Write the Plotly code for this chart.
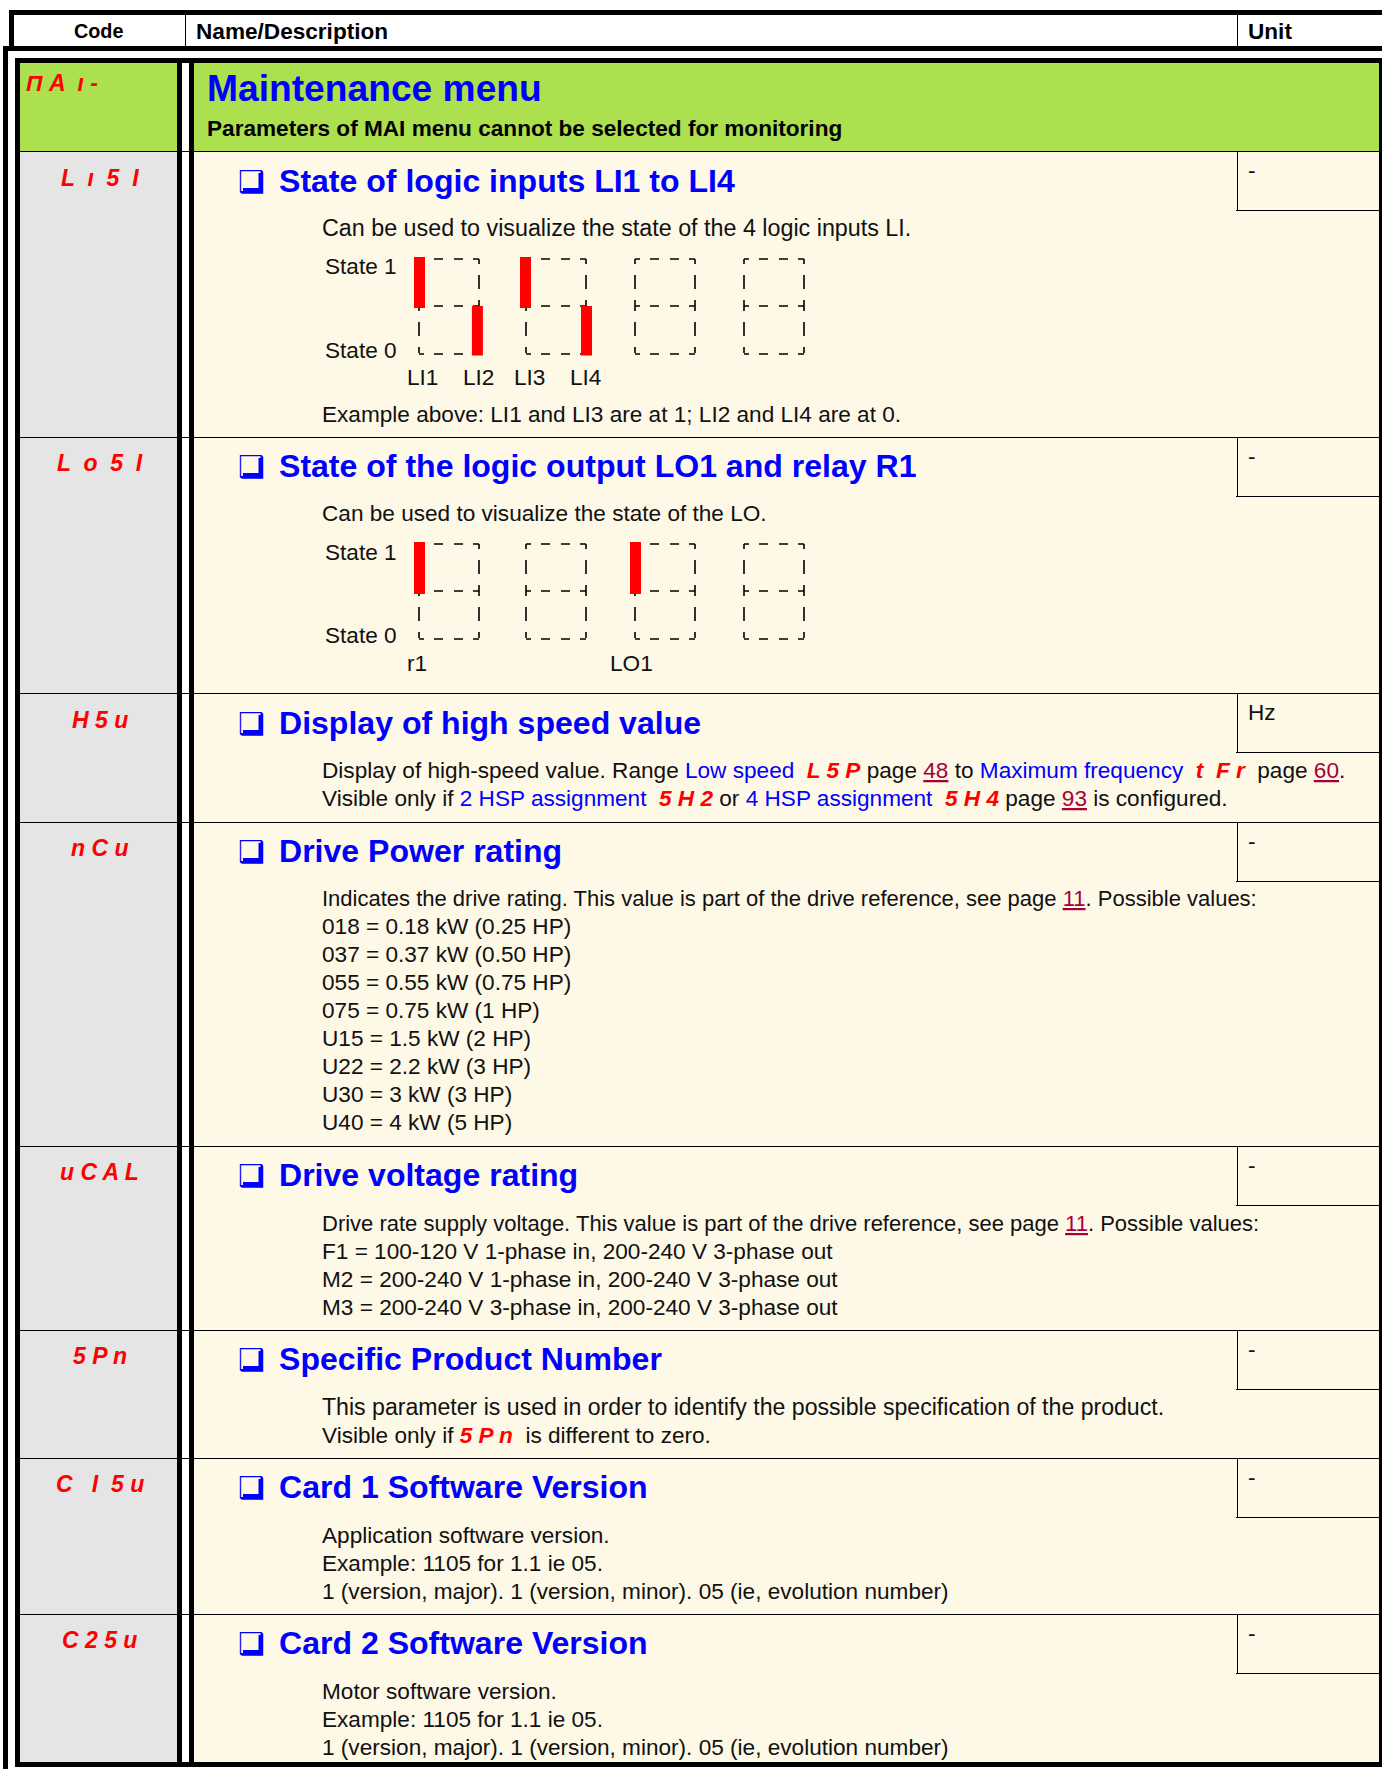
import plotly.graph_objects as go

# ---------- content ----------
header_labels = ["Code", "Name/Description", "Unit"]
menu_code = "Π A  ı -"
menu_title = "Maintenance menu"
menu_note = "Parameters of MAI menu cannot be selected for monitoring"
codes = ["L  ı  5  I", "L  o  5  I", "H 5 u", "n C u", "u C A L", "5 P n", "C   I  5 u", "C 2 5 u"]
headings = [
    "State of logic inputs LI1 to LI4",
    "State of the logic output LO1 and relay R1",
    "Display of high speed value",
    "Drive Power rating",
    "Drive voltage rating",
    "Specific Product Number",
    "Card 1 Software Version",
    "Card 2 Software Version",
]
units = ["-", "-", "Hz", "-", "-", "-", "-", "-"]

def seg(s):
    return f'<span style="color:#ff0000"><b><i>{s}</i></b></span>'
def blue(s):
    return f'<span style="color:#0000ff">{s}</span>'
def link(s):
    return f'<span style="color:#a5003c"><u>{s}</u></span>'

body_row1 = ["Can be used to visualize the state of the 4 logic inputs LI.",
             "Example above: LI1 and LI3 are at 1; LI2 and LI4 are at 0."]
body_row2 = ["Can be used to visualize the state of the LO."]
body_row3 = [
    "Display of high-speed value. Range " + blue("Low speed") + "  " + seg("L 5 P") + " page " + link("48")
    + " to " + blue("Maximum frequency") + "  " + seg("t  F r") + "  page " + link("60") + ".",
    "Visible only if " + blue("2 HSP assignment") + "  " + seg("5 H 2") + " or " + blue("4 HSP assignment")
    + "  " + seg("5 H 4") + " page " + link("93") + " is configured.",
]
body_row4 = ["Indicates the drive rating. This value is part of the drive reference, see page " + link("11") + ". Possible values:",
             "018 = 0.18 kW (0.25 HP)", "037 = 0.37 kW (0.50 HP)", "055 = 0.55 kW (0.75 HP)", "075 = 0.75 kW (1 HP)",
             "U15 = 1.5 kW (2 HP)", "U22 = 2.2 kW (3 HP)", "U30 = 3 kW (3 HP)", "U40 = 4 kW (5 HP)"]
body_row5 = ["Drive rate supply voltage. This value is part of the drive reference, see page " + link("11") + ". Possible values:",
             "F1 = 100-120 V 1-phase in, 200-240 V 3-phase out",
             "M2 = 200-240 V 1-phase in, 200-240 V 3-phase out",
             "M3 = 200-240 V 3-phase in, 200-240 V 3-phase out"]
body_row6 = ["This parameter is used in order to identify the possible specification of the product.",
             "Visible only if " + seg("5 P n") + "  is different to zero."]
body_row7 = ["Application software version.", "Example: 1105 for 1.1 ie 05.",
             "1 (version, major). 1 (version, minor). 05 (ie, evolution number)"]
body_row8 = ["Motor software version.", "Example: 1105 for 1.1 ie 05.",
             "1 (version, major). 1 (version, minor). 05 (ie, evolution number)"]

state_names = ["State 1", "State 0"]
li_labels = ["LI1", "LI2", "LI3", "LI4"]
li_states = [1, 0, 1, 0]
lo_labels = ["r1", "LO1"]
lo_states = [1, 1]

# ---------- layout geometry ----------
W, H = 1382, 1769
row_tops = [151, 437, 693, 822, 1146, 1330, 1458, 1614]
row_bottom = 1762
heading_y = [181, 466, 723, 851, 1175, 1359, 1487, 1643]
body_y = {
    0: [228, 414], 1: [513], 2: [770, 798],
    3: [898, 926, 954, 982, 1010, 1038, 1066, 1094, 1122],
    4: [1223, 1251, 1279, 1307], 5: [1407, 1435],
    6: [1535, 1563, 1591], 7: [1691, 1719, 1747],
}
bodies = [body_row1, body_row2, body_row3, body_row4, body_row5, body_row6, body_row7, body_row8]
BODY = 22.6
line_size = {(0, 0): 23.3, (3, 0): 22.0, (4, 0): 22.0, (5, 0): 23.1}

BLACK, GRAY, CREAM, GREEN = "#000000", "#e5e5e5", "#fef8e6", "#ace04e"
FONT = "Liberation Sans"
shapes, notes = [], []

def rect(x0, y0, x1, y1, color):
    shapes.append(dict(type="rect", xref="x", yref="y", x0=x0, y0=y0, x1=x1, y1=y1,
                       fillcolor=color, line=dict(width=0), layer="below"))

def text(x, y, s, size=BODY, color="#111111", bold=False, anchor="left", font=FONT):
    if bold:
        s = f"<b>{s}</b>"
    notes.append(dict(xref="x", yref="y", x=x, y=y, text=s, showarrow=False, xanchor=anchor,
                      yanchor="middle", align=anchor, borderpad=0, borderwidth=0,
                      font=dict(family=font, size=size, color=color)))

# fills
rect(20, 63, 177, row_bottom, GRAY)
rect(194, 63, 1379, row_bottom, CREAM)
rect(20, 63, 177, 151, GREEN)
rect(194, 63, 1379, 151, GREEN)

# frame
rect(9, 10, W, 15, BLACK)
rect(9, 10, 14, 46, BLACK)
rect(3, 46, W, 51, BLACK)
rect(3, 46, 8, H, BLACK)
rect(185, 15, 186, 46, BLACK)
rect(1237, 15, 1238, 46, BLACK)
rect(15, 58, W, 63, BLACK)
rect(15, 58, 20, 1767, BLACK)
rect(177, 63, 182, row_bottom, BLACK)
rect(189, 63, 194, row_bottom, BLACK)
rect(1379, 58, W, 1767, BLACK)
rect(16, row_bottom, W, 1767, BLACK)

for t in row_tops:
    rect(20, t, 1379, t + 1, BLACK)
    rect(1237, t, 1238, t + 59, BLACK)
    rect(1236, t + 59, 1379, t + 60, BLACK)

# header
text(98, 31, header_labels[0], size=19.8, bold=True, anchor="center", color="#000000")
text(196, 31, header_labels[1], size=22.6, bold=True, color="#000000")
text(1248, 31, header_labels[2], size=22.6, bold=True, color="#000000")

# menu row
text(26, 83, f"<b><i>{menu_code}</i></b>", size=23, color="#ff0000")
text(207, 88, menu_title, size=37.2, bold=True, color="#0000ff")
text(207, 128, menu_note, size=22.6, bold=True, color="#000000")

# rows
for i, top in enumerate(row_tops):
    h = heading_y[i]
    text(99.5, h - 3, f"<b><i>{codes[i]}</i></b>", size=23, color="#ff0000", anchor="center")
    rect(243, h + 7, 263, h + 12, "#0000ff")
    rect(258.5, h - 8, 263, h + 12, "#0000ff")
    text(238, h, "❑", size=30, color="#0000ff", font="DejaVu Sans")
    text(279, h, headings[i], size=32.05, bold=True, color="#0000ff")
    text(1248, top + 19.5, units[i])
    for j, (s, y) in enumerate(zip(bodies[i], body_y[i])):
        text(322, y, s, size=line_size.get((i, j), BODY))

# dashed display frames
frame_x = [(419, 479), (526, 586), (635, 695), (744, 804)]
DASH_H = "5px,10px,9px,11px,9px,10px,6px"
DASH_V = "5px,11px,14px,11px,6px"
def dash(x0, y0, x1, y1, pat):
    shapes.append(dict(type="line", xref="x", yref="y", x0=x0, y0=y0, x1=x1, y1=y1,
                       line=dict(color=BLACK, width=1.6, dash=pat), layer="below"))
for top, mid, bot in [(259, 306, 354), (544, 591, 639)]:
    for x0, x1 in frame_x:
        for y in (top, mid, bot):
            dash(x0, y, x1, y, DASH_H)
        for x in (x0, x1):
            dash(x, top, x, mid, DASH_V)
            dash(x, mid, x, bot, DASH_V)

text(325, 266, state_names[0]); text(325, 350, state_names[1])
text(325, 552, state_names[0]); text(325, 635, state_names[1])
for s, x in zip(li_labels, [407, 463, 514, 570]):
    text(x, 377, s)
for s, x in zip(lo_labels, [407, 610]):
    text(x, 663, s)

# state bars
bx, by = [], []
for st, x in zip(li_states, [419.5, 477.4, 525.5, 586.5]):
    y0, y1 = (257, 308) if st == 1 else (306, 355.5)
    bx += [x, x, None]; by += [y0, y1, None]
for st, x in zip(lo_states, [419.5, 635.5]):
    y0, y1 = (542, 594) if st == 1 else (591, 640)
    bx += [x, x, None]; by += [y0, y1, None]

fig = go.Figure(go.Scatter(x=bx, y=by, mode="lines", line=dict(color="#ff0000", width=11),
                           hoverinfo="skip", showlegend=False))
fig.update_layout(
    width=W, height=H, autosize=False, margin=dict(l=0, r=0, t=0, b=0, pad=0),
    paper_bgcolor="#ffffff", plot_bgcolor="#ffffff", shapes=shapes, annotations=notes,
    xaxis=dict(range=[0, W], visible=False, fixedrange=True),
    yaxis=dict(range=[H, 0], visible=False, fixedrange=True),
    showlegend=False,
)
fig.write_html("out.html", config=dict(displayModeBar=False),
               post_script="document.body.style.margin='0';document.documentElement.style.overflow='hidden';")
